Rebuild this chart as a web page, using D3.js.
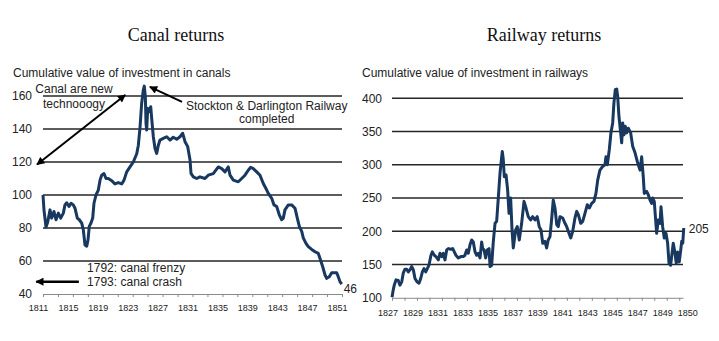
<!DOCTYPE html>
<html>
<head>
<meta charset="utf-8">
<script src="https://cdnjs.cloudflare.com/ajax/libs/d3/7.8.5/d3.min.js"></script>
<style>
    body { margin: 0; background: #fff; }
    svg { display: block; font-family: Arial, "Liberation Sans", sans-serif; }
</style>
</head>
<body>
<svg id="chart" width="719" height="341"></svg>
<script>

// Canal returns
const canalYears = [
    1811.0, 1811.13, 1811.4, 1811.63, 1811.94, 1812.16, 1812.47, 1812.74, 1813.05, 1813.37,
    1813.72, 1813.94, 1814.17, 1814.48, 1814.75, 1815.05, 1815.28, 1815.59, 1815.86, 1816.18,
    1816.39, 1816.62, 1816.85, 1817.02, 1817.19, 1817.42, 1817.65, 1817.82, 1818.09, 1818.4,
    1818.63, 1818.85, 1819.16, 1819.43, 1819.74, 1820.19, 1820.63, 1821.07, 1821.53, 1821.84,
    1822.2, 1822.64, 1823.08, 1823.54, 1823.75, 1823.98, 1824.2, 1824.42, 1824.55, 1824.69,
    1824.78, 1824.87, 1825.01, 1825.18, 1825.41, 1825.54, 1825.76, 1825.98, 1826.21, 1826.42,
    1826.65, 1827.09, 1827.55, 1827.99, 1828.43, 1828.89, 1829.33, 1829.69, 1830.0, 1830.36,
    1830.67, 1830.8, 1831.11, 1831.56, 1832.0, 1832.67, 1833.11, 1833.78, 1834.45, 1834.91,
    1835.35, 1835.79, 1836.02, 1836.46, 1837.13, 1837.58, 1838.02, 1838.46, 1838.79, 1839.13,
    1839.59, 1840.03, 1840.47, 1840.93, 1841.14, 1841.6, 1841.9, 1842.26, 1842.61, 1842.93,
    1843.15, 1843.37, 1843.82, 1844.27, 1844.71, 1845.02, 1845.29, 1845.61, 1845.82, 1846.18,
    1846.49, 1846.95, 1847.39, 1847.83, 1848.06, 1848.42, 1848.73, 1848.95, 1849.3, 1849.62,
    1850.29, 1850.5, 1850.73, 1850.96
];
const canalValues = [
    100, 91, 80.6, 83.6, 91, 86, 90, 85, 89, 86,
    89, 94, 95.3, 93, 95, 94, 92, 86, 85, 83,
    79, 69.7, 69, 72.7, 81, 83, 86, 95, 100, 103,
    109, 112, 113, 110, 110, 108.7, 106.7, 107.5, 106.7, 109,
    114, 117, 120, 125, 130, 141, 155.6, 163.6, 166, 159.6,
    143.6, 139.4, 152.5, 150.5, 153.5, 146.5, 135.3, 128.3, 125.2, 130,
    133.3, 134.3, 135.3, 133.3, 135, 133.8, 135.3, 137.4, 132.3, 129.3,
    121.2, 113.1, 111, 110, 111, 110, 112, 113, 117, 116,
    114, 117, 112, 109, 108, 110, 112, 115, 116.8, 116,
    114, 112, 107, 103, 101, 98, 94, 93, 88, 85,
    86, 91, 94, 94, 92, 86, 81, 78, 74, 70.7,
    68.7, 67, 65.6, 64.6, 61.5, 56.5, 51.5, 49.5, 50.5, 52.9,
    52.9, 50.5, 47.5, 46
];
const canalYTicks = [40, 60, 80, 100, 120, 140, 160];
const canalXLabels = ["1811", "1815", "1819", "1823", "1827", "1831", "1835", "1839", "1843", "1847", "1851"];

// Railway returns
const railYears = [
    1827.0, 1827.1, 1827.18, 1827.32, 1827.5, 1827.64, 1827.78, 1827.9, 1828.04, 1828.18,
    1828.31, 1828.44, 1828.58, 1828.71, 1828.84, 1829.0, 1829.16, 1829.3, 1829.43, 1829.56,
    1829.7, 1829.83, 1829.96, 1830.12, 1830.23, 1830.39, 1830.52, 1830.71, 1830.84, 1830.98,
    1831.11, 1831.24, 1831.38, 1831.51, 1831.72, 1831.86, 1831.99, 1832.12, 1832.31, 1832.52,
    1832.71, 1832.84, 1832.98, 1833.11, 1833.25, 1833.38, 1833.51, 1833.65, 1833.78, 1833.91,
    1834.05, 1834.18, 1834.26, 1834.37, 1834.5, 1834.63, 1834.77, 1834.85, 1834.98, 1835.11,
    1835.25, 1835.38, 1835.51, 1835.65, 1835.83, 1835.91, 1835.99, 1836.13, 1836.26, 1836.37,
    1836.5, 1836.61, 1836.71, 1836.9, 1837.03, 1837.19, 1837.38, 1837.57, 1837.73, 1837.91,
    1838.1, 1838.26, 1838.45, 1838.63, 1838.79, 1838.93, 1839.07, 1839.25, 1839.38, 1839.51,
    1839.65, 1839.79, 1839.91, 1840.05, 1840.19, 1840.31, 1840.45, 1840.67, 1840.85, 1840.99,
    1841.17, 1841.31, 1841.47, 1841.65, 1841.79, 1841.92, 1842.11, 1842.27, 1842.45, 1842.64,
    1842.8, 1842.99, 1843.17, 1843.33, 1843.47, 1843.65, 1843.84, 1844.05, 1844.13, 1844.24,
    1844.4, 1844.53, 1844.67, 1844.77, 1844.88, 1844.99, 1845.07, 1845.17, 1845.31, 1845.39,
    1845.47, 1845.57, 1845.68, 1845.79, 1845.92, 1846.11, 1846.27, 1846.46, 1846.67, 1846.86,
    1846.99, 1847.12, 1847.2, 1847.39, 1847.52, 1847.66, 1847.79, 1847.87, 1848.0, 1848.11,
    1848.19, 1848.32, 1848.46, 1848.54, 1848.67, 1848.8, 1848.94, 1849.07, 1849.18, 1849.31,
    1849.39, 1849.52, 1849.66, 1849.76, 1849.87, 1850.0, 1850.12, 1850.2, 1850.28, 1850.36
];
const railValues = [
    101, 112, 119, 127, 126, 119, 124, 137, 143, 143,
    139, 142, 147, 142, 129, 124, 122, 129, 139, 144,
    139, 144, 149, 164, 169, 164, 162, 157, 167, 162,
    167, 157, 172, 174, 173, 174, 169, 164, 160, 162,
    162, 164, 172, 167, 180, 187, 184, 169, 164, 167,
    160, 184, 174, 172, 160, 172, 174, 147, 149, 184,
    212, 215, 250, 288, 320, 308, 282, 285, 262, 227,
    250, 202, 175, 202, 207, 187, 212, 245, 235, 222,
    217, 222, 217, 222, 207, 202, 182, 185, 175, 187,
    192, 220, 247, 235, 210, 207, 222, 220, 212, 207,
    197, 190, 200, 220, 230, 225, 212, 215, 227, 240,
    235, 242, 245, 257, 277, 292, 297, 300, 312, 300,
    323, 348, 363, 393, 413, 414, 403, 373, 348, 333,
    363, 345, 358, 348, 355, 348, 328, 318, 303, 292,
    312, 282, 257, 260, 255, 247, 242, 250, 245, 217,
    197, 217, 212, 237, 207, 190, 197, 182, 152, 149,
    162, 182, 167, 152, 169, 154, 172, 185, 182, 205
];
const railYTicks = [100, 150, 200, 250, 300, 350, 400];
// the source labels its last two-year slot "1850"
const railXLabels = ["1827", "1829", "1831", "1833", "1835", "1837", "1839", "1841", "1843", "1845", "1847", "1849", "1850"];

const svg = d3.select("#chart");
const FONT = 'Arial, "Liberation Sans", sans-serif';

svg.append("rect").attr("width", 719).attr("height", 341).attr("fill", "#fff");

svg.append("defs")
.append("marker")
.attr("id", "arrow")
.attr("viewBox", "0 0 10 10")
.attr("refX", 9)
.attr("refY", 5)
.attr("markerWidth", 10)
.attr("markerHeight", 8)
.attr("markerUnits", "userSpaceOnUse")
.attr("orient", "auto-start-reverse")
.append("path")
.attr("d", "M0,0L10,5L0,10z")
.attr("fill", "#000");

class ReturnsChart {

    constructor(o) {
        this.o = o;

        this.x = d3.scaleLinear().domain(o.xDomain).range([o.left, o.right]);
        this.y = d3.scaleLinear().domain(o.yDomain).range([o.bottom, o.top]);

        this.g = svg.append("g");

        this.drawHeader();
        this.drawGrid();
        this.drawXAxis();
        this.drawLine();
        this.drawNotes();
    }

    drawHeader() {
        const o = this.o;

        this.g.append("text")
        .attr("x", o.titleX)
        .attr("y", 41)
        .attr("text-anchor", "middle")
        .attr("font-family", '"Liberation Serif", "Times New Roman", serif')
        .attr("font-size", 18)
        .attr("fill", "#111")
        .text(o.title);

        this.g.append("text")
        .attr("x", o.subtitleX)
        .attr("y", 77)
        .attr("font-size", 12)
        .attr("fill", "#222")
        .text(o.subtitle);
    }

    drawGrid() {
        const o = this.o;

        // horizontal gridlines, the lowest tick sits on the x axis instead
        this.g.append("g")
        .selectAll("line")
        .data(o.yTicks.slice(1))
        .join("line")
        .attr("x1", o.left)
        .attr("x2", o.right)
        .attr("y1", d => this.y(d))
        .attr("y2", d => this.y(d))
        .attr("stroke", "#262626")
        .attr("stroke-width", 1.6);

        const yAxis = this.g.append("g")
        .attr("transform", `translate(${o.yLabelX},0)`)
        .call(d3.axisLeft(this.y).tickValues(o.yTicks).tickSize(0).tickPadding(0));

        yAxis.select(".domain").remove();
        yAxis.attr("font-family", FONT).attr("font-size", 12);
        yAxis.selectAll("text").attr("fill", "#222");
    }

    drawXAxis() {
        const o = this.o;

        const ticks = this.g.append("g")
        .attr("transform", `translate(0,${o.bottom})`)
        .call(d3.axisBottom(this.x).tickValues(o.xTickValues).tickSize(3).tickSizeOuter(0).tickFormat(""));

        ticks.select(".domain").attr("stroke", "#8a8a8a");
        ticks.selectAll(".tick line").attr("stroke", "#8a8a8a");

        const labels = this.g.append("g")
        .attr("transform", `translate(${o.xLabelShift},${o.bottom})`)
        .call(d3.axisBottom(this.x)
            .tickValues(o.xLabels.map((d, i) => o.xDomain[0] + i * o.labelStep))
            .tickSize(0)
            .tickPadding(o.xLabelPad)
            .tickFormat((d, i) => o.xLabels[i]));

        labels.select(".domain").remove();
        labels.attr("font-family", FONT).attr("font-size", 9);
        labels.selectAll("text").attr("fill", "#1a1a1a");
    }

    drawLine() {
        const o = this.o;
        const points = d3.zip(o.years, o.values);

        this.g.append("path")
        .datum(points)
        .attr("d", d3.line().x(d => this.x(d[0])).y(d => this.y(d[1])))
        .attr("fill", "none")
        .attr("stroke", "#18385f")
        .attr("stroke-width", 3)
        .attr("stroke-linejoin", "round");

        const last = points[points.length - 1];

        this.g.append("text")
        .attr("x", this.x(last[0]) + o.endDx)
        .attr("y", this.y(last[1]) + o.endDy)
        .attr("font-size", 12)
        .attr("fill", "#222")
        .text(last[1]);
    }

    drawNotes() {
        const o = this.o;

        (o.notes || []).forEach(n => {
            const t = this.g.append("text")
            .attr("font-size", 12)
            .attr("fill", "#222")
            .attr("text-anchor", n.anchor);

            n.lines.forEach((line, i) => {
                t.append("tspan")
                .attr("x", this.x(n.year))
                .attr("y", this.y(n.value) + i * n.gap)
                .text(line);
            });
        });

        (o.arrows || []).forEach(a => {
            this.g.append("line")
            .attr("x1", this.x(a.from[0]))
            .attr("y1", this.y(a.from[1]))
            .attr("x2", this.x(a.to[0]))
            .attr("y2", this.y(a.to[1]))
            .attr("stroke", "#000")
            .attr("stroke-width", a.width)
            .attr("marker-end", "url(#arrow)")
            .attr("marker-start", a.both ? "url(#arrow)" : null);
        });
    }
}

new ReturnsChart({
    title: "Canal returns",
    titleX: 176,
    subtitle: "Cumulative value of investment in canals",
    subtitleX: 13,
    years: canalYears,
    values: canalValues,
    xDomain: [1811, 1851],
    yDomain: [40, 160],
    left: 43, right: 342, top: 96, bottom: 294,
    yTicks: canalYTicks,
    yLabelX: 32,
    xTickValues: d3.range(1811, 1852, 2),
    xLabels: canalXLabels,
    labelStep: 4,
    xLabelShift: -5,
    xLabelPad: 11,
    endDx: 2, endDy: 9,
    notes: [
        { year: 1815.15, value: 162.0, gap: 15, anchor: "middle", lines: ["Canal are new", "technooogy"] },
        { year: 1840.93, value: 151.8, gap: 13, anchor: "middle", lines: ["Stockton & Darlington Railway", "completed"] },
        { year: 1816.9, value: 53.5, gap: 14, anchor: "start", lines: ["1792: canal frenzy", "1793: canal crash"] }
    ],
    arrows: [
        { from: [1810.2, 118.5], to: [1822.0, 160.6], both: true, width: 2 },
        { from: [1829.6, 156.4], to: [1825.3, 165.5], both: false, width: 2 },
        { from: [1815.8, 47.5], to: [1810.1, 47.5], both: false, width: 2.5 }
    ]
});

new ReturnsChart({
    title: "Railway returns",
    titleX: 544,
    subtitle: "Cumulative value of investment in railways",
    subtitleX: 362,
    years: railYears,
    values: railValues,
    xDomain: [1827, 1850.3],
    yDomain: [100, 400],
    left: 392, right: 683, top: 98.3, bottom: 297.8,
    yTicks: railYTicks,
    yLabelX: 382,
    xTickValues: d3.range(1827, 1851, 1),
    xLabels: railXLabels,
    labelStep: 2,
    xLabelShift: -4.5,
    xLabelPad: 12,
    endDx: 5, endDy: 5
});

</script>
</body>
</html>
